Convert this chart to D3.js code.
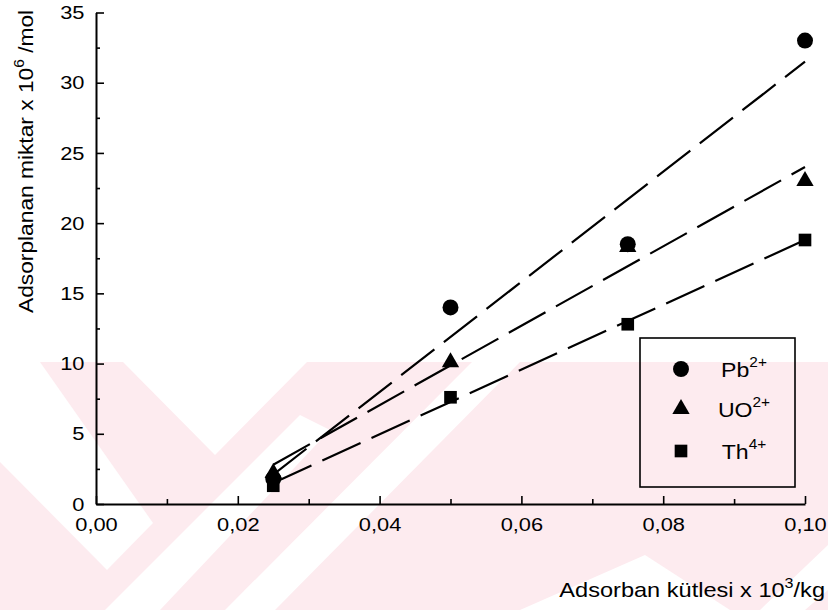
<!DOCTYPE html>
<html>
<head>
<meta charset="utf-8">
<script src="https://cdn.jsdelivr.net/npm/d3@7"></script>
<style>
  html, body { margin: 0; padding: 0; background: #fff; }
  text { font-family: "Liberation Sans", Arial, sans-serif; fill: #000; }
</style>
</head>
<body>
<div id="chart"></div>
<script>
// data
const massValues = [0.025, 0.05, 0.075, 0.10];
const pbValues = [1.8, 14.0, 18.5, 33.0];
const uoValues = [2.2, 10.1, 18.3, 23.0];
const thValues = [1.3, 7.6, 12.8, 18.8];

// fitted lines, start and end value (x = 0.025 and x = 0.10)
const fitX = [0.025, 0.10];
const pbFit = [2.1, 31.5];
const uoFit = [2.8, 24.0];
const thFit = [1.5, 18.8];

const xTicks = [0, 0.02, 0.04, 0.06, 0.08, 0.10];
const xMinorTicks = [0.01, 0.03, 0.05, 0.07, 0.09];
const yTicks = [0, 5, 10, 15, 20, 25, 30, 35];
const yMinorTicks = [2.5, 7.5, 12.5, 17.5, 22.5, 27.5, 32.5];

const series = [
    {name: "Pb", sup: "2+", values: pbValues, fit: pbFit, symbol: d3.symbolCircle, size: 200},
    {name: "UO", sup: "2+", values: uoValues, fit: uoFit, symbol: d3.symbolTriangle, size: 130},
    {name: "Th", sup: "4+", values: thValues, fit: thFit, symbol: d3.symbolSquare, size: 160}
];

var width = 828, height = 610;
var stretch = 1.15; // the scanned lettering is wider than Arial

var svg = d3.select("#chart")
    .append("svg")
    .attr("width", width)
    .attr("height", height);

// faint watermark of the scanned page
var wm = svg.append("g").attr("class", "watermark");
wm.append("rect")
    .attr("x", 0).attr("y", 362)
    .attr("width", width).attr("height", height - 362)
    .attr("fill", "#fdebef");
var whiteShapes = [
    [[123, 362], [307, 362], [215, 455]],
    [[0, 362], [40, 362], [153, 523], [107, 570], [0, 462]],
    [[105, 610], [300, 415], [330, 430], [160, 610]],
    [[225, 610], [472, 362], [520, 362], [275, 610]],
    [[520, 610], [645, 555], [730, 610]],
    [[760, 610], [828, 545], [828, 590], [805, 610]]
];
wm.selectAll("polygon")
    .data(whiteShapes)
    .enter()
    .append("polygon")
    .attr("points", function(d) { return d.map(function(p) { return p.join(","); }).join(" "); })
    .attr("fill", "#fff");

var x = d3.scaleLinear().domain([0, 0.10]).range([96, 805]);
var y = d3.scaleLinear().domain([0, 35]).range([504, 12.5]);

var fmt = function(d) { return d3.format(".2f")(d).replace(".", ","); };

// X axis
var xAxis = svg.append("g")
    .attr("transform", "translate(0," + y(0) + ")")
    .call(d3.axisBottom(x).tickValues(xTicks).tickFormat(fmt).tickSize(-8).tickSizeOuter(0).tickPadding(14));
xAxis.selectAll("text")
    .style("font-size", "19px")
    .attr("transform", "scale(" + stretch + ",1)");

svg.append("g")
    .attr("transform", "translate(0," + y(0) + ")")
    .call(d3.axisBottom(x).tickValues(xMinorTicks).tickFormat("").tickSize(-5).tickSizeOuter(0))
    .select(".domain").remove();

// Y axis
var yAxis = svg.append("g")
    .attr("transform", "translate(" + x(0) + ",0)")
    .call(d3.axisLeft(y).tickValues(yTicks).tickSize(-8).tickSizeOuter(0).tickPadding(10));
yAxis.selectAll("text")
    .style("font-size", "19px")
    .attr("transform", "scale(" + stretch + ",1)");

svg.append("g")
    .attr("transform", "translate(" + x(0) + ",0)")
    .call(d3.axisLeft(y).tickValues(yMinorTicks).tickFormat("").tickSize(-4).tickSizeOuter(0))
    .select(".domain").remove();

svg.selectAll(".domain").attr("stroke", "#000").attr("stroke-width", 2);
svg.selectAll(".tick line").attr("stroke", "#000").attr("stroke-width", 1.6);

// fitted lines
var line = d3.line()
    .x(function(d, i) { return x(fitX[i]); })
    .y(function(d) { return y(d); });

svg.selectAll(".fit")
    .data(series)
    .enter()
    .append("path")
    .attr("class", "fit")
    .attr("d", function(d) { return line(d.fit); })
    .attr("fill", "none")
    .attr("stroke", "#000")
    .attr("stroke-width", 2.2)
    .attr("stroke-dasharray", "42,12");

// points
series.forEach(function(s) {
    svg.selectAll(null)
        .data(s.values)
        .enter()
        .append("path")
        .attr("d", d3.symbol().type(s.symbol).size(s.size))
        .attr("transform", function(d, i) { return "translate(" + x(massValues[i]) + "," + y(d) + ")"; })
        .attr("fill", "#000");
});

// legend
var legend = svg.append("g");
legend.append("rect")
    .attr("x", 640).attr("y", 338)
    .attr("width", 155).attr("height", 149)
    .attr("fill", "none")
    .attr("stroke", "#000")
    .attr("stroke-width", 1.6);

var rowY = [369, 409, 451];
series.forEach(function(s, i) {
    legend.append("path")
        .attr("d", d3.symbol().type(s.symbol).size(s.size))
        .attr("transform", "translate(681," + rowY[i] + ")")
        .attr("fill", "#000");
    var t = legend.append("text")
        .attr("transform", "translate(744," + (rowY[i] + 8) + ") scale(1.1,1)")
        .attr("text-anchor", "middle")
        .style("font-size", "21px");
    t.append("tspan").text(s.name);
    t.append("tspan").attr("dy", -10).style("font-size", "14px").text(s.sup);
});

// axis titles
var yt = svg.append("text")
    .attr("transform", "translate(33,313) rotate(-90) scale(1.11,1)")
    .attr("text-anchor", "start")
    .style("font-size", "20.5px");
yt.append("tspan").text("Adsorplanan miktar x 10");
yt.append("tspan").attr("dy", -9).style("font-size", "14px").text("6");
yt.append("tspan").attr("dy", 9).text(" /mol");

var xt = svg.append("text")
    .attr("transform", "translate(825,597) scale(" + stretch + ",1)")
    .attr("text-anchor", "end")
    .style("font-size", "20.5px");
xt.append("tspan").text("Adsorban kütlesi x 10");
xt.append("tspan").attr("dy", -9).style("font-size", "14px").text("3");
xt.append("tspan").attr("dy", 9).text("/kg");
</script>
</body>
</html>
